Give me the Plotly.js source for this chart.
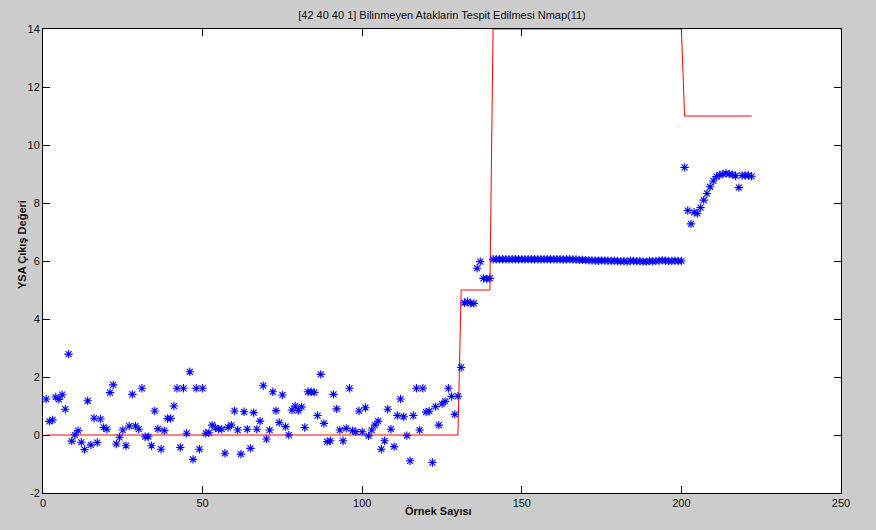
<!DOCTYPE html>
<html>
<head>
<meta charset="utf-8">
<script src="https://cdn.plot.ly/plotly-3.0.1.min.js"></script>
<style>html,body{margin:0;padding:0;background:#cccccc;}#chart{width:876px;height:530px;}</style>
</head>
<body>
<div id="chart"></div>
<script>
// Network output (YSA çıkış değeri) per sample
var ysaOutput = [
  1.24,0.47,0.52,1.31,1.23,1.39,0.89,2.79,-0.21,0.00,
  0.15,-0.25,-0.50,1.18,-0.34,0.58,-0.26,0.55,0.26,0.20,
  1.46,1.73,-0.31,-0.08,0.17,-0.37,0.31,1.40,0.31,0.20,
  1.61,-0.06,-0.06,-0.37,0.83,0.21,-0.49,0.15,0.57,0.57,
  1.00,1.61,-0.43,1.61,0.06,2.18,-0.84,1.61,-0.49,1.61,
  0.06,0.08,0.34,0.25,0.20,0.20,-0.63,0.26,0.34,0.83,
  0.17,-0.66,0.80,0.20,-0.46,0.77,0.20,0.48,1.70,-0.14,
  0.17,1.49,0.84,0.43,1.38,0.29,0.00,0.86,1.00,0.84,
  0.97,0.26,1.49,1.49,1.47,0.67,2.09,0.40,-0.23,-0.20,
  1.40,0.90,0.17,-0.20,0.23,1.61,0.15,0.11,0.83,0.11,
  0.94,-0.03,0.17,0.34,0.48,-0.49,-0.20,0.89,0.20,-0.40,
  0.67,1.24,0.63,-0.02,-0.89,0.67,1.61,0.17,1.61,0.79,
  0.82,-0.95,0.98,0.34,1.07,1.16,1.61,1.33,0.71,1.34,
  2.33,4.56,4.60,4.54,4.54,5.75,5.98,5.40,5.38,5.40,
  6.06,6.06,6.06,6.06,6.06,6.06,6.06,6.06,6.06,6.06,
  6.06,6.06,6.06,6.06,6.06,6.06,6.06,6.06,6.06,6.06,
  6.06,6.06,6.05,6.06,6.06,6.05,6.05,6.04,6.04,6.03,
  6.02,6.02,6.01,6.01,6.02,6.01,6.01,6.00,6.01,6.00,
  5.99,6.00,5.98,6.01,6.00,5.99,6.00,5.98,5.98,6.00,
  5.99,6.00,6.01,6.02,6.01,6.00,6.00,6.01,6.00,6.00,
  9.23,7.74,7.28,7.68,7.64,7.84,8.10,8.33,8.56,8.76,
  8.91,8.97,9.00,9.02,9.00,8.98,8.94,8.53,8.95,8.95,
  8.95,8.92
];
// Target (red step line) vertices
var targetX = [1, 130, 131, 140, 141, 200, 201, 222];
var targetY = [0, 0, 5, 5, 14, 14, 11, 11];

var xTicks = [0, 50, 100, 150, 200, 250];
var yTicks = [-2, 0, 2, 4, 6, 8, 10, 12, 14];

var sampleNo = ysaOutput.map(function (v, i) { return i + 1; });

var traces = [
  {
    x: targetX, y: targetY, type: 'scatter', mode: 'lines',
    line: {color: '#ff0000', width: 1}, hoverinfo: 'skip'
  },
  {
    x: sampleNo, y: ysaOutput, type: 'scatter', mode: 'markers',
    marker: {symbol: 'asterisk-open', size: 7, color: '#0000ff', line: {color: '#0000ff', width: 1.1}},
    cliponaxis: false
  }
];

var axisFont = {family: 'Liberation Sans, Arial, sans-serif', size: 11, color: '#111'};

var layout = {
  width: 876, height: 530,
  paper_bgcolor: '#cccccc', plot_bgcolor: '#ffffff',
  margin: {l: 43, r: 35, t: 29, b: 37},
  showlegend: false,
  title: {
    text: '[42 40 40 1] Bilinmeyen Ataklarin Tespit Edilmesi Nmap(11)',
    font: {family: 'Liberation Sans, Arial, sans-serif', size: 11, color: '#111'},
    x: 0.5, xref: 'paper', y: 0.972, yref: 'container', yanchor: 'middle'
  },
  xaxis: {
    range: [0, 250], tickvals: xTicks, ticktext: xTicks.map(String),
    ticks: 'inside', ticklen: 7, tickcolor: '#000', tickwidth: 1,
    showline: true, linecolor: '#000', linewidth: 1, mirror: 'ticks',
    showgrid: false, zeroline: false, layer: 'below traces',
    tickfont: axisFont
  },
  yaxis: {
    range: [-2, 14], tickvals: yTicks, ticktext: yTicks.map(String),
    ticks: 'inside', ticklen: 7, tickcolor: '#000', tickwidth: 1,
    showline: true, linecolor: '#000', linewidth: 1, mirror: 'ticks',
    showgrid: false, zeroline: false, layer: 'below traces',
    tickfont: axisFont
  },
  annotations: [
    {
      text: 'Örnek Sayısı', xref: 'paper', yref: 'paper', x: 0.495, y: -0.038,
      xanchor: 'center', yanchor: 'middle', showarrow: false,
      font: {family: 'Liberation Sans Narrow, Arial Narrow, Liberation Sans, sans-serif', size: 11, color: '#111', weight: 'bold'}
    },
    {
      text: 'YSA Çıkış Değeri', xref: 'paper', yref: 'paper', x: -0.026, y: 0.535,
      xanchor: 'center', yanchor: 'middle', textangle: -90, showarrow: false,
      font: {family: 'Liberation Sans, Arial, sans-serif', size: 11, color: '#111', weight: 'bold'}
    }
  ]
};

Plotly.newPlot('chart', traces, layout, {displayModeBar: false, staticPlot: true});
</script>
</body>
</html>
